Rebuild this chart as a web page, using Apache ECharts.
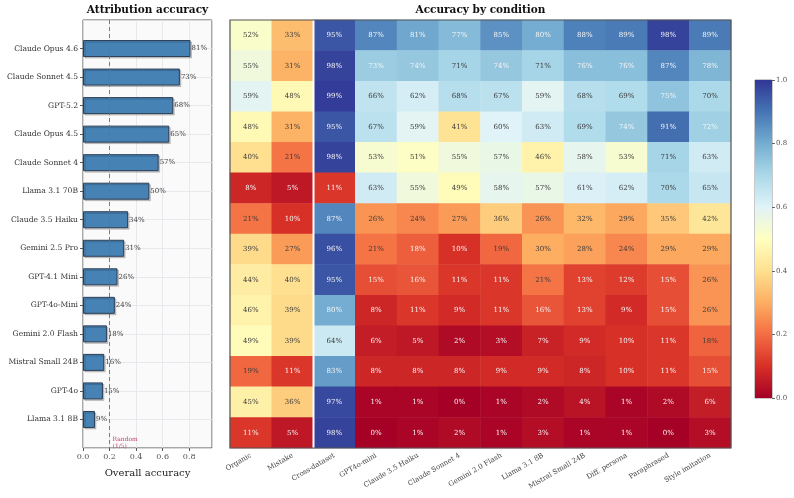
<!DOCTYPE html>
<html>
<head>
<meta charset="utf-8">
<script src="https://cdn.jsdelivr.net/npm/echarts@6/dist/echarts.min.js"></script>
<style>
  html, body { margin: 0; padding: 0; background: #fff; }
  #main { width: 794px; height: 498px; }
</style>
</head>
<body>
<div id="main"></div>
<script>
// models, top to bottom
var models = ['Claude Opus 4.6', 'Claude Sonnet 4.5', 'GPT-5.2', 'Claude Opus 4.5', 'Claude Sonnet 4',
  'Llama 3.1 70B', 'Claude 3.5 Haiku', 'Gemini 2.5 Pro', 'GPT-4.1 Mini', 'GPT-4o-Mini',
  'Gemini 2.0 Flash', 'Mistral Small 24B', 'GPT-4o', 'Llama 3.1 8B'];
// overall accuracy (%)
var overall = [81, 73, 68, 65, 57, 50, 34, 31, 26, 24, 18, 16, 15, 9];
var conditions = ['Organic', 'Mistake', 'Cross-dataset', 'GPT4o-mini', 'Claude 3.5 Haiku', 'Claude Sonnet 4',
  'Gemini 2.0 Flash', 'Llama 3.1 8B', 'Mistral Small 24B', 'Diff. persona', 'Paraphrased', 'Style imitation'];
// accuracy by condition (%), one row per model
var acc = [
  [52, 33, 95, 87, 81, 77, 85, 80, 88, 89, 98, 89],
  [55, 31, 98, 73, 74, 71, 74, 71, 76, 76, 87, 78],
  [59, 48, 99, 66, 62, 68, 67, 59, 68, 69, 75, 70],
  [48, 31, 95, 67, 59, 41, 60, 63, 69, 74, 91, 72],
  [40, 21, 98, 53, 51, 55, 57, 46, 58, 53, 71, 63],
  [8, 5, 11, 63, 55, 49, 58, 57, 61, 62, 70, 65],
  [21, 10, 87, 26, 24, 27, 36, 26, 32, 29, 35, 42],
  [39, 27, 96, 21, 17.6, 10, 19, 30, 28, 24, 29, 29],
  [44, 40, 95, 15, 16, 11, 11, 21, 13, 12, 15, 26],
  [46, 39, 80, 8, 11, 9, 11, 16, 13, 9, 15, 26],
  [49, 39, 64, 6, 5, 2, 3, 7, 9, 10, 11, 18.4],
  [19, 11, 83, 8, 8, 8, 9, 9, 8, 10, 11, 15],
  [45, 36, 97, 1, 1, 0, 1, 2, 4, 1, 2, 6],
  [11, 5, 98, 0, 1, 2, 1, 3, 1, 1, 0, 3]
];
var randomLevel = 0.2;

var rdylbu = ['#a50026', '#d73027', '#f46d43', '#fdae61', '#fee090', '#ffffbf',
  '#e0f3f8', '#abd9e9', '#74add1', '#4575b4', '#313695'];
var font = 'DejaVu Serif';

// left grid / heatmap grid / colorbar geometry
var G1 = {left: 83, top: 20, width: 129, height: 428};
var G2 = {left: 230, top: 20, width: 501, height: 428};
var G3 = {left: 755, top: 80, width: 17, height: 318};

var barCats = [''].concat(models).concat(['']);
var barData = ['-'].concat(overall.map(function (v) { return v / 100; })).concat(['-']);

var heatData = [];
acc.forEach(function (row, r) {
  row.forEach(function (v, c) {
    var f = v / 100;
    var light = f < 0.18 || f > 0.715;
    heatData.push({value: [c, r, f], label: {color: light ? '#f4f4f4' : '#3a3a3a'}});
  });
});

var chart = echarts.init(document.getElementById('main'));
var stops = rdylbu.map(function (c, i) { return {offset: i / (rdylbu.length - 1), color: c}; });

chart.setOption({
  animation: false,
  textStyle: {fontFamily: font},
  grid: [
    Object.assign({show: true, backgroundColor: '#fafafa', borderColor: '#555', borderWidth: 1}, G1),
    Object.assign({show: false}, G2),
    Object.assign({show: true, borderColor: '#777', borderWidth: 0.8}, G3)
  ],
  xAxis: [
    {type: 'value', gridIndex: 0, min: 0, max: 0.972, interval: 0.2,
      name: 'Overall accuracy', nameLocation: 'middle', nameGap: 20,
      nameTextStyle: {fontFamily: font, fontSize: 10, color: '#222'},
      axisLine: {show: false},
      axisTick: {show: true, length: 3, lineStyle: {color: '#555'}},
      axisLabel: {fontSize: 8, color: '#555', margin: 5, showMaxLabel: false,
        formatter: function (v) { return v > 0.9 ? '' : v.toFixed(1); }},
      splitLine: {show: true, lineStyle: {color: '#e4e4ea', width: 0.8}}},
    {type: 'category', gridIndex: 1, data: conditions,
      axisLine: {show: false}, axisTick: {show: false},
      axisLabel: {interval: 0, rotate: 30, fontSize: 7, color: '#444', margin: 7},
      splitLine: {show: false}},
    {type: 'category', gridIndex: 2, data: ['c'], show: false}
  ],
  yAxis: [
    {type: 'category', gridIndex: 0, data: barCats, inverse: true, boundaryGap: false,
      axisLine: {show: false},
      axisTick: {show: true, length: 3, lineStyle: {color: '#555'},
        interval: function (i) { return i > 0 && i < barCats.length - 1; }},
      axisLabel: {interval: 0, fontSize: 7.6, color: '#333', margin: 5},
      splitLine: {show: true, interval: 0, lineStyle: {color: '#e4e4ea', width: 0.8}}},
    {type: 'category', gridIndex: 1, data: models, inverse: true,
      axisLine: {show: false}, axisTick: {show: false}, axisLabel: {show: false}},
    {type: 'value', gridIndex: 2, min: 0, max: 1, interval: 0.2, position: 'right',
      axisLine: {show: false},
      axisTick: {show: true, length: 3, lineStyle: {color: '#666'}},
      axisLabel: {fontSize: 7, color: '#555', margin: 4, formatter: function (v) { return v.toFixed(1); }},
      splitLine: {show: false}}
  ],
  visualMap: {type: 'continuous', show: false, min: 0, max: 1, seriesIndex: 1,
    inRange: {color: rdylbu}},
  series: [
    {type: 'bar', xAxisIndex: 0, yAxisIndex: 0, data: barData, barWidth: 17,
      itemStyle: {color: '#4682b4', borderColor: '#2c3e55', borderWidth: 1,
        shadowColor: 'rgba(0,0,0,0.18)', shadowOffsetX: 1.5, shadowOffsetY: 1.5, shadowBlur: 0},
      label: {show: true, position: 'right', distance: 1, fontSize: 7, color: '#444',
        formatter: function (p) { return Math.round(p.value * 100) + '%'; }},
      markLine: {silent: true, symbol: 'none', label: {show: false},
        lineStyle: {type: [4, 3], color: '#c2456e', width: 0.9},
        data: [{xAxis: randomLevel}]}},
    {type: 'heatmap', xAxisIndex: 1, yAxisIndex: 1, data: heatData,
      label: {show: true, fontSize: 7, fontFamily: font,
        formatter: function (p) { return Math.round(p.value[2] * 100) + '%'; }},
      itemStyle: {borderWidth: 0}},
    {type: 'bar', xAxisIndex: 2, yAxisIndex: 2, data: [1], barWidth: '100%', silent: true,
      itemStyle: {color: new echarts.graphic.LinearGradient(0, 1, 0, 0, stops)}}
  ]
});

var rx = chart.convertToPixel({gridIndex: 0}, [randomLevel, 0])[0];
var cellW = G2.width / conditions.length;
var titleFont = 'bold 10.5px "DejaVu Serif"';
chart.setOption({
  graphic: [
    {type: 'text', x: G1.left + G1.width / 2, y: 5, z: 10,
      style: {text: 'Attribution accuracy', fill: '#111', font: titleFont, textAlign: 'center'}},
    {type: 'text', x: G2.left + G2.width / 2, y: 5, z: 10,
      style: {text: 'Accuracy by condition', fill: '#111', font: titleFont, textAlign: 'center'}},
    {type: 'text', x: rx + 3, y: 436, z: 10,
      style: {text: 'Random\n(1/5)', fill: '#c2456e', font: '6px "DejaVu Serif"', lineHeight: 7}},
    {type: 'line', z: 10, shape: {x1: G2.left + 2 * cellW, y1: G2.top, x2: G2.left + 2 * cellW, y2: G2.top + G2.height},
      style: {stroke: '#fff', lineWidth: 2}},
    {type: 'rect', z: 11, shape: {x: G2.left, y: G2.top, width: G2.width, height: G2.height},
      style: {fill: 'none', stroke: '#555', lineWidth: 1.2}}
  ]
});
</script>
</body>
</html>
